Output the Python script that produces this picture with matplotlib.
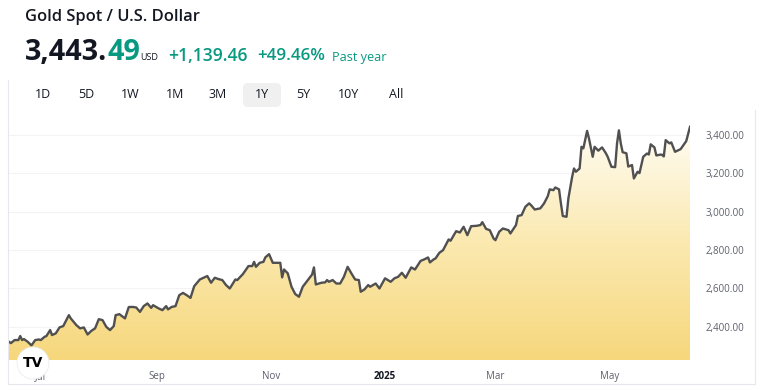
import numpy as np
import pandas as pd
import matplotlib
matplotlib.use("Agg")
import matplotlib.pyplot as plt
import matplotlib.dates as mdates
from matplotlib.colors import LinearSegmentedColormap
from matplotlib.patches import Circle, FancyBboxPatch, PathPatch
from matplotlib.lines import Line2D
from matplotlib.path import Path

plt.rcParams['font.family'] = ['Open Sans', 'DejaVu Sans']

# ---------------- data ----------------
start_date = "2024-06-14"
day_offsets = [0, 1, 3, 5, 6, 7, 8, 10, 12, 14, 16, 17, 19, 20, 22, 23, 25, 27, 29, 32,
               33, 36, 38, 40, 42, 44, 46, 48, 50, 52, 54, 56, 57, 59, 62, 64, 66, 68, 70, 72,
               74, 76, 77, 80, 82, 84, 85, 87, 89, 91, 93, 95, 97, 99, 102, 104, 106, 108, 110, 112,
               114, 116, 118, 121, 122, 125, 128, 130, 131, 132, 134, 136, 137, 139, 141, 143, 145, 146, 147, 149,
               151, 153, 155, 157, 160, 162, 163, 164, 167, 169, 170, 171, 173, 175, 177, 179, 181, 183, 185, 187,
               188, 190, 192, 193, 196, 198, 201, 204, 206, 208, 210, 212, 215, 217, 220, 222, 224, 225, 227, 228,
               230, 232, 235, 236, 239, 241, 243, 245, 247, 250, 252, 253, 255, 257, 259, 260, 262, 264, 267, 268,
               271, 272, 274, 276, 278, 279, 281, 284, 286, 288, 289, 291, 292, 294, 295, 296, 298, 299, 301, 302,
               303, 305, 306, 307, 309, 310, 312, 313, 315, 317, 319, 320, 322, 324, 325, 326, 327, 328, 330, 331,
               333, 334, 336, 337, 339, 341, 342, 343, 345, 346, 348, 349, 350, 351, 353, 354, 356, 358, 359, 362,
               364]
prices = [2322, 2315, 2331, 2331, 2352, 2331, 2336, 2322, 2303, 2331, 2334, 2331, 2348, 2352, 2383, 2357, 2366, 2397, 2404, 2461,
          2444, 2409, 2392, 2397, 2360, 2379, 2392, 2440, 2435, 2400, 2383, 2404, 2461, 2466, 2444, 2503, 2504, 2501, 2478, 2508,
          2522, 2499, 2513, 2496, 2487, 2508, 2491, 2504, 2508, 2565, 2577, 2565, 2551, 2612, 2647, 2656, 2665, 2630, 2656, 2649,
          2644, 2618, 2600, 2647, 2644, 2675, 2717, 2717, 2739, 2713, 2734, 2739, 2762, 2779, 2734, 2734, 2734, 2658, 2699, 2679,
          2609, 2571, 2557, 2609, 2647, 2673, 2710, 2621, 2630, 2632, 2644, 2635, 2644, 2626, 2626, 2661, 2713, 2679, 2647, 2644,
          2583, 2595, 2618, 2609, 2626, 2600, 2653, 2635, 2653, 2661, 2682, 2656, 2710, 2699, 2744, 2752, 2762, 2736, 2752, 2757,
          2786, 2800, 2856, 2849, 2899, 2892, 2922, 2878, 2925, 2927, 2931, 2946, 2911, 2904, 2861, 2852, 2896, 2913, 2904, 2887,
          2931, 2978, 2983, 3026, 3044, 3035, 3012, 3018, 3044, 3082, 3117, 3113, 3127, 3117, 3044, 2978, 2974, 3070, 3182, 3226,
          3209, 3226, 3339, 3331, 3422, 3383, 3287, 3339, 3319, 3336, 3306, 3287, 3235, 3233, 3357, 3425, 3357, 3311, 3305, 3236,
          3244, 3174, 3209, 3202, 3287, 3304, 3299, 3352, 3336, 3294, 3298, 3298, 3289, 3374, 3357, 3362, 3313, 3322, 3327, 3369,
          3443.49]

y_ticks = [2400, 2600, 2800, 3000, 3200, 3400]
y_tick_labels = ["2,400.00", "2,600.00", "2,800.00", "3,000.00", "3,200.00", "3,400.00"]
x_tick_dates = ["2024-07-01", "2024-09-01", "2024-11-01", "2025-01-01", "2025-03-01", "2025-05-01"]
x_tick_labels = ["Jul", "Sep", "Nov", "2025", "Mar", "May"]

title = "Gold Spot / U.S. Dollar"
price_main = "3,443."
price_dec = "49"
currency = "USD"
change_abs = "+1,139.46"
change_pct = "+49.46%"
period_label = "Past year"
ranges = ["1D", "5D", "1W", "1M", "3M", "1Y", "5Y", "10Y", "All"]
active_range = "1Y"

# ---------------- figure ----------------
W, H = 760, 390
fig = plt.figure(figsize=(W / 100, H / 100), dpi=100)
fig.patch.set_facecolor("white")
renderer = fig.canvas.get_renderer()

def fx(x):
    return x / W

def fy(y):
    return 1 - y / H

def fit_text(x, y, s, width, **kw):
    t = fig.text(fx(x), fy(y), s, ha="left", va="center", fontsize=10, **kw)
    w = t.get_window_extent(renderer).width
    t.set_fontsize(10 * width / w)
    return t

GREEN = "#089981"
DARK = "#131722"

dates = pd.Timestamp(start_date) + pd.to_timedelta(day_offsets, unit="D")
xnum = mdates.date2num(dates.to_pydatetime())
vals = np.array(prices, dtype=float)

ax_l, ax_r, ax_t, ax_b = 9, 690, 115, 360
ax = fig.add_axes([fx(ax_l), fy(ax_b), (ax_r - ax_l) / W, (ax_b - ax_t) / H])
ax.set_facecolor("none")
ymin, ymax = 2227, 3505
ax.set_xlim(xnum[0], xnum[-1])
ax.set_ylim(ymin, ymax)

# gradient fill under line
verts = [(xnum[0], ymin)] + list(zip(xnum, vals)) + [(xnum[-1], ymin), (xnum[0], ymin)]
codes = [Path.MOVETO] + [Path.LINETO] * (len(verts) - 2) + [Path.CLOSEPOLY]
clip = PathPatch(Path(verts, codes), facecolor="none", edgecolor="none", transform=ax.transData)
ax.add_patch(clip)
cmap = LinearSegmentedColormap.from_list("gold", ["#fffdf4", "#fbe9b0", "#f6d77c"])
grad = np.linspace(0, 1, 256).reshape(-1, 1)
im = ax.imshow(grad, extent=[xnum[0], xnum[-1], ymin, vals.max()], origin="upper",
               aspect="auto", cmap=cmap, zorder=1, interpolation="bicubic")
im.set_clip_path(clip)

ax.plot(xnum, vals, color="#505050", lw=1.7, zorder=3, solid_joinstyle="round")

for s in ax.spines.values():
    s.set_visible(False)
ax.yaxis.tick_right()
ax.set_yticks(y_ticks)
ax.set_yticklabels(y_tick_labels)
ax.tick_params(axis="y", length=0, pad=11, labelsize=7, labelcolor="#5d606b")
ax.grid(axis="y", color="#f3f3f3", lw=0.8, zorder=0)
ax.set_axisbelow(True)

xt = mdates.date2num(pd.to_datetime(x_tick_dates).to_pydatetime())
ax.set_xticks(xt)
ax.set_xticklabels(x_tick_labels)
ax.tick_params(axis="x", length=0, pad=8, labelsize=7, labelcolor="#5d606b")
for lbl in ax.get_xticklabels():
    if lbl.get_text().isdigit():
        lbl.set_fontweight("bold")
        lbl.set_color(DARK)

# widget borders
bc = "#e6e8ee"
fig.add_artist(Line2D([fx(8), fx(8)], [fy(80), fy(384)], color=bc, lw=0.8, transform=fig.transFigure))
fig.add_artist(Line2D([fx(8), fx(755)], [fy(384), fy(384)], color=bc, lw=0.8, transform=fig.transFigure))
fig.add_artist(Line2D([fx(755), fx(755)], [fy(110), fy(384)], color=bc, lw=0.8, transform=fig.transFigure))

# logo
fig.add_artist(Circle((33, H - 363), 16, transform=None, facecolor="white",
                      edgecolor="#ececec", lw=0.6, zorder=10))
fig.text(fx(33), fy(363), "TV", ha="center", va="center", fontsize=10, fontweight="black",
         color="black", zorder=11, family=["DejaVu Sans"])

# header texts
fit_text(25, 17, title, 175, fontweight="semibold", color=DARK)
t = fit_text(25, 52, price_main, 82, fontweight="bold", color=DARK)
x_end = (t.get_window_extent(renderer).x1)
t2 = fig.text(x_end / W, fy(52), price_dec, ha="left", va="center",
              fontsize=t.get_fontsize(), fontweight="bold", color=GREEN)
fig.text(fx(140), fy(58), currency, ha="left", va="center", fontsize=6.5, color=DARK)
fit_text(168, 56, change_abs, 80, fontweight="semibold", color=GREEN)
fit_text(257, 56, change_pct, 68, fontweight="semibold", color=GREEN)
fit_text(332, 57, period_label, 54, color=GREEN)

btn_x = [43, 86, 130, 175, 218, 262, 303, 349, 396]
for label, bx in zip(ranges, btn_x):
    if label == active_range:
        fig.add_artist(FancyBboxPatch((bx - 19, H - 107), 38, 24, boxstyle="round,pad=0,rounding_size=5",
                                      transform=None, facecolor="#f0f0f0", edgecolor="none", zorder=1))
    fig.text(fx(bx), fy(95), label, ha="center", va="center", fontsize=9, color=DARK, zorder=2)

fig.savefig("out.png", dpi=100, facecolor="white")
